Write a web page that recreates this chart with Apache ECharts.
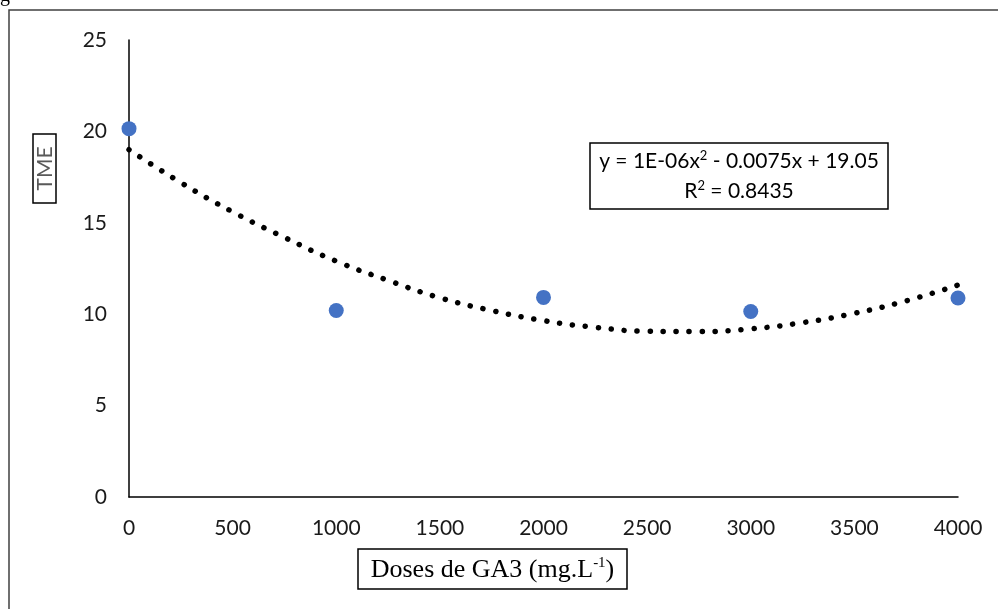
<!DOCTYPE html>
<html>
<head>
<meta charset="utf-8">
<script src="https://cdn.jsdelivr.net/npm/echarts@6/dist/echarts.min.js"></script>
<style>
  html, body { margin: 0; padding: 0; background: #fff; }
  #chart { width: 998px; height: 609px; }
</style>
</head>
<body>
<div id="chart"></div>
<script>
// doses de GA3 (mg/L) et valeurs de TME observées
var doses = [0, 1000, 2000, 3000, 4000];
var tme = [20.15, 10.2, 10.92, 10.15, 10.89];

// courbe de tendance polynomiale
var trendX = [0, 250, 500, 750, 1000, 1250, 1500, 1750, 2000, 2250, 2500, 2750, 3000, 3250, 3500, 3750, 4000];
var trendY = [19.0, 17.2, 15.6, 14.2, 12.9, 11.85, 10.9, 10.2, 9.65, 9.28, 9.07, 9.05, 9.2, 9.54, 10.05, 10.73, 11.6];

// équation affichée (exposants en texte enrichi)
var equation = '{t|y = 1E-06x}{s|2}{t| - 0.0075x + 19.05}';
var rSquared = '{t|R}{s|2}{t| = 0.8435}';

var sansFont = 'Lato';
var serifFont = 'Liberation Serif';

(function () {
	var chart = echarts.init(document.getElementById('chart'));

	var points = doses.map(function (d, i) { return [d, tme[i]]; });
	var trend = trendX.map(function (d, i) { return [d, trendY[i]]; });

	var eqRich = {
		t: { fontFamily: sansFont, fontSize: 21, fill: '#000' },
		s: { fontFamily: sansFont, fontSize: 13, fill: '#000', padding: [0, 0, 10, 0] }
	};

	chart.setOption({
		animation: false,
		grid: {
			left: 129,
			right: 40,
			top: 40,
			bottom: 112
		},
		xAxis: {
			type: 'value',
			min: 0,
			max: 4000,
			interval: 500,
			axisLine: { lineStyle: { color: '#000', width: 1.5 } },
			axisTick: { show: false },
			splitLine: { show: false },
			axisLabel: {
				margin: 21, fontFamily: sansFont, fontSize: 21, color: '#1a1a1a',
				formatter: function (v) { return String(v); }
			}
		},
		yAxis: {
			type: 'value',
			min: 0,
			max: 25,
			interval: 5,
			axisLine: { show: true, lineStyle: { color: '#000', width: 1.5 } },
			axisTick: { show: false },
			splitLine: { show: false },
			axisLabel: { margin: 22, fontFamily: sansFont, fontSize: 21, color: '#1a1a1a' }
		},
		series: [{
			name: 'tendance',
			type: 'line',
			data: trend,
			smooth: true,
			symbol: 'none',
			lineStyle: { color: '#000', width: 5.5, type: [0.1, 12.9], cap: 'round' },
			z: 2
		}, {
			name: 'TME',
			type: 'scatter',
			data: points,
			symbolSize: 15,
			itemStyle: { color: '#4472C4', opacity: 1 },
			z: 3
		}],
		graphic: [
			// cadre extérieur
			{
				type: 'rect',
				shape: { x: 9, y: 10, width: 1100, height: 700 },
				style: { fill: 'none', stroke: '#404040', lineWidth: 1.5 },
				silent: true
			},
			{
				type: 'text',
				x: 0, y: -14,
				style: { text: 'g', font: '20px "' + serifFont + '"', fill: '#000' }
			},
			// titre de l'axe Y
			{
				type: 'rect',
				shape: { x: 33, y: 134, width: 23, height: 69 },
				style: { fill: '#fff', stroke: '#000', lineWidth: 1.5 }
			},
			{
				type: 'text',
				x: 45, y: 168.5,
				rotation: Math.PI / 2,
				style: {
					text: 'TME', font: '21px "' + sansFont + '"', fill: '#595959',
					align: 'center', verticalAlign: 'middle'
				}
			},
			// titre de l'axe X
			{
				type: 'rect',
				shape: { x: 358, y: 549, width: 269, height: 40 },
				style: { fill: '#fff', stroke: '#000', lineWidth: 1.5 }
			},
			{
				type: 'text',
				x: 492.5, y: 570,
				style: {
					text: '{t|Doses de GA3 (mg.L}{s|-1}{t|)}',
					align: 'center', verticalAlign: 'middle',
					rich: {
						t: { fontFamily: serifFont, fontSize: 26, fill: '#000' },
						s: { fontFamily: serifFont, fontSize: 15, fill: '#000', padding: [0, 0, 13, 0] }
					}
				}
			},
			// équation de la courbe de tendance
			{
				type: 'rect',
				shape: { x: 590, y: 143, width: 298, height: 66 },
				style: { fill: '#fff', stroke: '#000', lineWidth: 1.5 }
			},
			{
				type: 'text',
				x: 739, y: 161,
				style: {
					text: equation, rich: eqRich,
					align: 'center', verticalAlign: 'middle'
				}
			},
			{
				type: 'text',
				x: 739, y: 191,
				style: {
					text: rSquared, rich: eqRich,
					align: 'center', verticalAlign: 'middle'
				}
			}
		]
	});
})();
</script>
</body>
</html>
